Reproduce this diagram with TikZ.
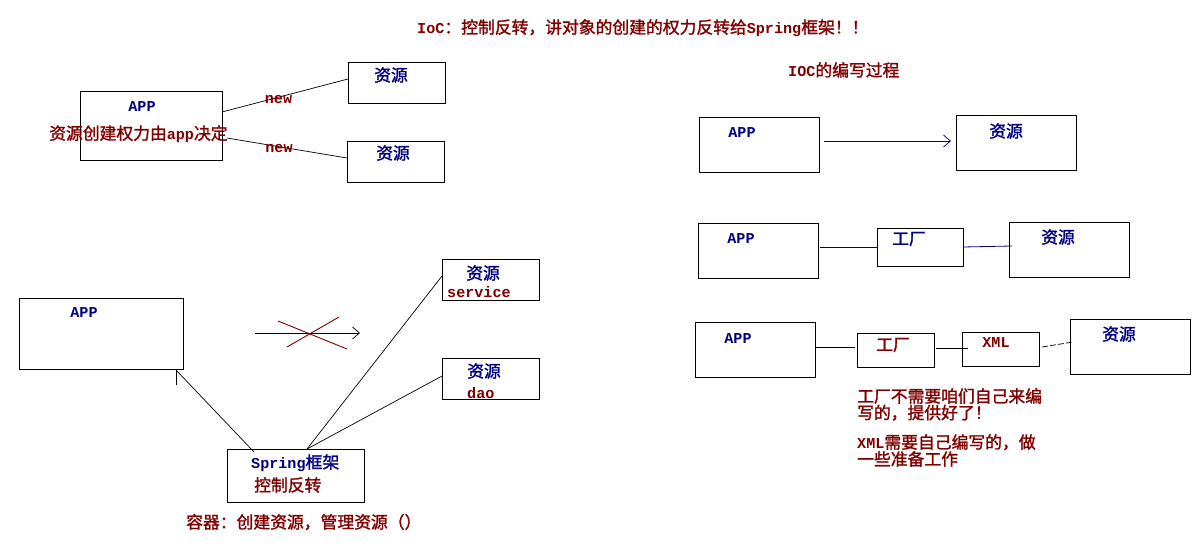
\documentclass[tikz,border=0pt]{standalone}
\usepackage{fontspec}
\setmainfont{Noto Sans CJK SC}[AutoFakeBold=1.5]
\newfontfamily\lat{Liberation Mono}[Scale=0.9]
\usetikzlibrary{arrows.meta}
\definecolor{ired}{HTML}{800000}
\definecolor{inavy}{HTML}{000080}
\newcommand\la[1]{{\lat\bfseries #1}}
\begin{document}
\begin{tikzpicture}[x=1pt,y=-1pt,
  box/.style={draw=black, line width=0.9pt, inner sep=0pt, outer sep=0pt},
  txt/.style={inner sep=0pt, font=\fontsize{16.8}{15}\selectfont\bfseries},
  rtxt/.style={txt, text=ired},
  btxt/.style={txt, text=inavy},
  conn/.style={line width=0.7pt, draw=black},
  nconn/.style={line width=0.8pt, draw=inavy},
  barb/.style={-{Straight Barb[length=7pt,width=12pt,line width=0.7pt]}}]
\useasboundingbox (0,0) rectangle (1204,553);
\fill[white] (0,0) rectangle (1204,553);

% title
\node[rtxt, anchor=west] (title) at (417,28) {\la{IoC}：控制反转，讲对象的创建的权力反转给\la{Spring}框架！！};
\node[rtxt, anchor=west] (ioct) at (788,70) {\la{IOC}的编写过程};

% ---------- top left ----------
\node[box, minimum width=142pt, minimum height=69pt] (appA) at (151,125.5) {};
\node[box, minimum width=97pt, minimum height=41pt] (resA1) at (396.5,82.5) {};
\node[box, minimum width=97pt, minimum height=41pt] (resA2) at (395.5,161.5) {};
\node[btxt] (appAt) at (142,107) {\la{APP}};
\node[rtxt, anchor=west] (appAd) at (49,134) {资源创建权力由\la{app}决定};
\node[btxt] (resA1t) at (391,75) {资源};
\node[btxt] (resA2t) at (393,153) {资源};
\draw[conn] ([yshift=13.5pt]appA.east) -- ([yshift=3.5pt]resA1.west);
\draw[conn] ([xshift=5pt,yshift=-12.5pt]appA.east) -- ([yshift=3.5pt]resA2.west);
\node[rtxt] (new1) at (278.5,100) {\la{new}};
\node[rtxt] (new2) at (279,149) {\la{new}};

% ---------- bottom left ----------
\node[box, minimum width=164pt, minimum height=71pt] (appB) at (101,333.5) {};
\node[box, minimum width=97pt, minimum height=41pt] (svc) at (490.5,279.5) {};
\node[box, minimum width=97pt, minimum height=41pt] (dao) at (490.5,378.5) {};
\node[box, minimum width=137pt, minimum height=53pt] (spring) at (295.5,475.5) {};
\node[btxt] (appBt) at (84,313) {\la{APP}};
\node[btxt] (svct) at (483,273) {资源};
\node[rtxt, anchor=west] (svcn) at (447,292) {\la{service}};
\node[btxt] (daot) at (484,371) {资源};
\node[rtxt, anchor=west] (daon) at (467,393) {\la{dao}};
\node[btxt, anchor=west] (springt) at (251,463) {\la{Spring}框架};
\node[rtxt, anchor=west] (springc) at (254,485) {控制反转};
\node[rtxt, anchor=west] (rongqi) at (186,522) {容器：创建资源，管理资源（）};

\draw[conn] ([xshift=-41.5pt,yshift=-3pt]spring.north) -- ([xshift=-7pt,yshift=-1pt]appB.south east);
\draw[conn] ([xshift=-7pt,yshift=-1pt]appB.south east) -- ++(0,15);
\draw[conn] ([xshift=11.5pt]spring.north) -- ([yshift=3.5pt]svc.west);
\draw[conn] ([xshift=11.5pt]spring.north) -- ([yshift=2.5pt]dao.west);

\coordinate (xa) at (255,333);
\coordinate (xb) at (360,333);
\draw[conn, barb] (xa) -- (xb);
\coordinate (xr1) at (278,321);
\coordinate (xr2) at (347,349);
\coordinate (xr3) at (287,347);
\coordinate (xr4) at (339,317);
\draw[line width=0.9pt, ired] (xr1) -- (xr2);
\draw[line width=0.9pt, ired] (xr3) -- (xr4);

% ---------- right ----------
\node[box, minimum width=120pt, minimum height=55pt] (app1) at (759,144.5) {};
\node[box, minimum width=120pt, minimum height=55pt] (res1) at (1016,142.5) {};
\node[btxt] (app1t) at (742,133) {\la{APP}};
\node[btxt] (res1t) at (1006,131) {资源};
\draw[nconn, barb] ([xshift=5pt,yshift=3.5pt]app1.east) -- ([xshift=-5pt,yshift=1.5pt]res1.west);

\node[box, minimum width=120pt, minimum height=55pt] (app2) at (758,250.5) {};
\node[box, minimum width=86pt, minimum height=38pt] (fac2) at (920,247) {};
\node[box, minimum width=120pt, minimum height=55pt] (res2) at (1069,249.5) {};
\node[btxt] (app2t) at (741,239) {\la{APP}};
\node[btxt] (fac2t) at (909,239) {工厂};
\node[btxt] (res2t) at (1058,237) {资源};
\draw[nconn] ([xshift=2pt,yshift=3.5pt]app2.east) -- (fac2.west);
\draw[nconn] (fac2.east) -- ([xshift=3pt,yshift=3.5pt]res2.west);

\node[box, minimum width=120pt, minimum height=55pt] (app3) at (755,349.5) {};
\node[box, minimum width=77pt, minimum height=34pt] (fac3) at (895.5,350) {};
\node[box, minimum width=77pt, minimum height=34pt] (xml3) at (1000.5,349) {};
\node[box, minimum width=120pt, minimum height=55pt] (res3) at (1130,346.5) {};
\node[btxt] (app3t) at (738,339) {\la{APP}};
\node[rtxt] (fac3t) at (893,345) {工厂};
\node[rtxt] (xml3t) at (996,343) {\la{XML}};
\node[btxt] (res3t) at (1119,334) {资源};
\draw[conn] ([yshift=2.5pt]app3.east) -- ([xshift=-2pt,yshift=3pt]fac3.west);
\draw[conn] ([xshift=2pt,yshift=2pt]fac3.east) -- ([xshift=6pt,yshift=1pt]xml3.west);
\draw[conn, dashed, dash pattern=on 6pt off 2pt] ([xshift=3pt,yshift=2pt]xml3.east) -- ([xshift=3pt,yshift=4.5pt]res3.west);

\node[rtxt, anchor=west, align=left] (note1) at (857,404.5) {工厂不需要咱们自己来编\\写的，提供好了！};
\node[rtxt, anchor=west, align=left] (note2) at (857,450.5) {\la{XML}需要自己编写的，做\\一些准备工作};
\end{tikzpicture}
\end{document}
